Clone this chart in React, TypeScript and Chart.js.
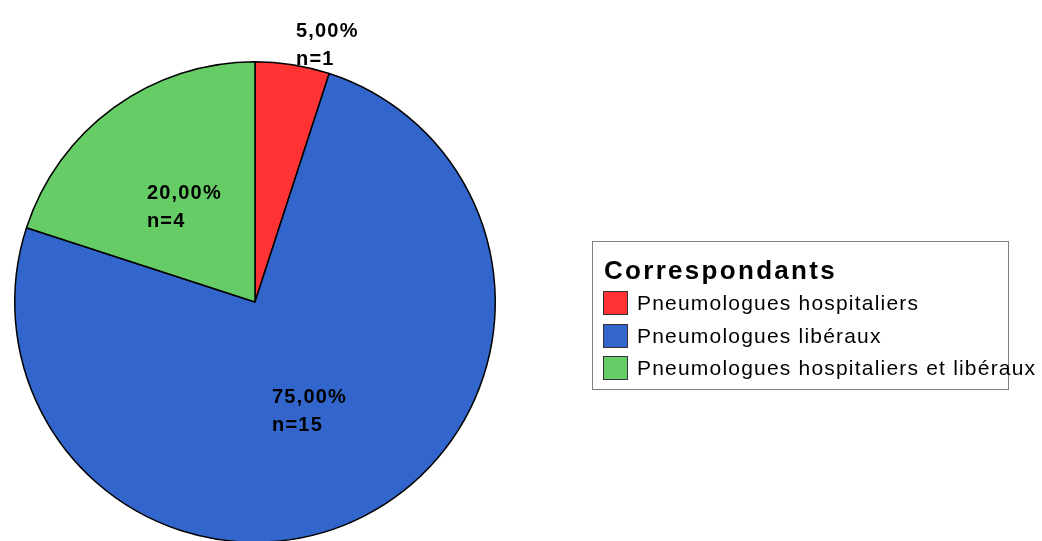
import React, { useEffect, useRef } from "react";
import { Chart, registerables } from "chart.js";

Chart.register(...registerables);

const categories = [
  "Pneumologues hospitaliers",
  "Pneumologues libéraux",
  "Pneumologues hospitaliers et libéraux",
];
const counts = [1, 15, 4];
const colors = ["#FF3333", "#3366CC", "#66CC66"];
const legendTitle = "Correspondants";

const total = counts.reduce((a, b) => a + b, 0);
const pctLabel = (v: number) => ((v / total) * 100).toFixed(2).replace(".", ",") + "%";

const labelPlugin = {
  id: "sliceLabels",
  afterDatasetsDraw(chart: any) {
    const ctx = chart.ctx;
    const meta = chart.getDatasetMeta(0);
    ctx.save();
    ctx.font = "bold 20px 'Liberation Sans', Arial, sans-serif";
    (ctx as any).letterSpacing = "1.2px";
    ctx.fillStyle = "#000";
    ctx.textBaseline = "alphabetic";
    meta.data.forEach((arc: any, i: number) => {
      const { x, y, startAngle, endAngle, outerRadius } = arc.getProps(
        ["x", "y", "startAngle", "endAngle", "outerRadius"],
        true
      );
      const mid = (startAngle + endAngle) / 2;
      const frac = counts[i] / total;
      const l1 = pctLabel(counts[i]);
      const l2 = "n=" + counts[i];
      ctx.textAlign = "left";
      if (frac < 0.1) {
        const px = x + Math.cos(mid) * outerRadius * 1.09;
        const py = y + Math.sin(mid) * outerRadius * 1.09;
        ctx.fillText(l1, px, py - 6);
        ctx.fillText(l2, px, py + 22);
      } else {
        const px = x + Math.cos(mid) * outerRadius * 0.5;
        const py = y + Math.sin(mid) * outerRadius * 0.5;
        const w = Math.max(ctx.measureText(l1).width, ctx.measureText(l2).width);
        const lx = px - w / 2;
        ctx.fillText(l1, lx, py - 6);
        ctx.fillText(l2, lx, py + 22);
      }
    });
    ctx.restore();
  },
};

export default function App() {
  const ref = useRef<HTMLCanvasElement | null>(null);
  useEffect(() => {
    if (!ref.current) return;
    const chart = new Chart(ref.current, {
      type: "pie",
      data: {
        labels: categories,
        datasets: [
          {
            data: counts,
            backgroundColor: colors,
            borderColor: "#000",
            borderWidth: 1.5,
          },
        ],
      },
      options: {
        responsive: false,
        animation: false,
        layout: { padding: { left: 14, right: 546, top: 61, bottom: 17 } },
        plugins: {
          legend: { display: false },
          tooltip: { enabled: false },
        },
      },
      plugins: [labelPlugin],
    });
    return () => chart.destroy();
  }, []);

  const font = "'Liberation Sans', Arial, sans-serif";
  return (
    <div
      style={{
        position: "fixed",
        left: 0,
        top: 0,
        width: 1042,
        height: 541,
        overflow: "hidden",
        background: "#fff",
        fontFamily: font,
      }}
    >
      <canvas ref={ref} width={1042} height={560} style={{ position: "absolute", left: 0, top: 0 }} />
      <div
        style={{
          position: "absolute",
          left: 592,
          top: 241,
          width: 415,
          height: 147,
          border: "1px solid #808080",
          overflow: "visible",
        }}
      >
        <div
          style={{
            position: "absolute",
            left: 11,
            top: 13,
            fontSize: 26,
            fontWeight: "bold",
            letterSpacing: "2.3px",
            lineHeight: "30px",
            whiteSpace: "nowrap",
          }}
        >
          {legendTitle}
        </div>
        {categories.map((c, i) => (
          <div
            key={c}
            style={{
              position: "absolute",
              left: 10,
              top: 49 + i * 32.5,
              height: 24,
              display: "flex",
              alignItems: "center",
              whiteSpace: "nowrap",
            }}
          >
            <div
              style={{
                width: 23,
                height: 22,
                background: colors[i],
                border: "1px solid #333",
                marginRight: 9,
              }}
            />
            <span style={{ fontSize: 21, letterSpacing: "1.2px", lineHeight: "24px" }}>{c}</span>
          </div>
        ))}
      </div>
    </div>
  );
}
